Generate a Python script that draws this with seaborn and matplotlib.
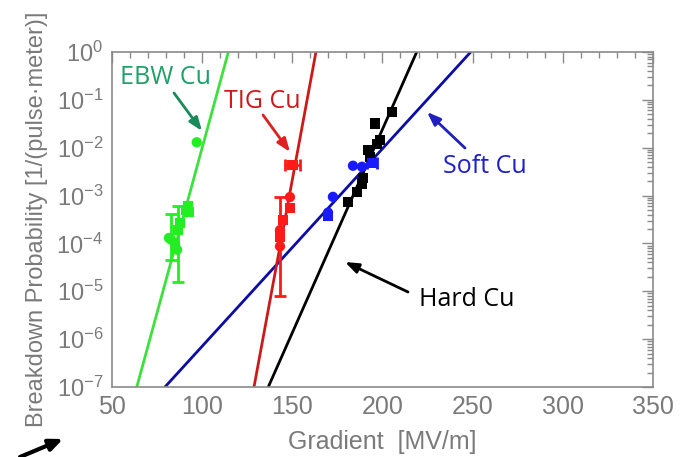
import numpy as np
import pandas as pd
import matplotlib
matplotlib.use("Agg")
import matplotlib.pyplot as plt
import matplotlib.ticker as mticker
import seaborn as sns

# ---------------- data ----------------
# fitted lines: gradient where the fit reaches P=1e-7 and P=1e0
fit_p = [1e-7, 1e0]
ebw_fit_g = [64.0, 114.7]
tig_fit_g = [128.9, 163.2]
hard_fit_g = [136.8, 219.0]
soft_fit_g = [79.6, 248.9]

# EBW Cu measurements
ebw_g = [97.2, 92.5, 93.1, 91.3, 83.0, 81.8, 87.0, 87.9, 86.3, 85.2]
ebw_p = [1.3e-2, 5.9e-4, 4.6e-4, 5.0e-4, 1.2e-4, 1.3e-4, 1.9e-4, 2.7e-4, 7.4e-5, 1.0e-4]
ebw_lo = [None, None, None, None, 4.6e-5, None, 1.56e-5, None, None, None]
ebw_hi = [None, None, None, None, 4.1e-4, None, 6.2e-4, None, None, None]
ebw_m = ["o", "s", "s", "s", "o", "o", "s", "s", "o", "o"]

# TIG Cu measurements
tig_g = [150.3, 148.8, 148.8, 143.3, 143.3, 143.3, 145.0]
tig_p = [4.4e-3, 9.3e-4, 5.5e-4, 1.9e-4, 1.4e-4, 8.7e-5, 3.1e-4]
tig_xerr = [4.0, None, None, None, None, None, None]
tig_lo = [None, None, None, None, 8.1e-6, None, None]
tig_hi = [None, None, None, None, 9.5e-4, None, None]
tig_m = ["s", "o", "s", "o", "s", "o", "s"]

# Hard Cu measurements
hard_g = [205.3, 196.0, 198.7, 197.0, 192.2, 193.1, 189.3, 188.7, 185.9, 181.0]
hard_p = [5.5e-2, 3.2e-2, 1.45e-2, 1.2e-2, 9.0e-3, 6.4e-3, 2.3e-3, 1.8e-3, 1.2e-3, 7.4e-4]

# Soft Cu measurements
soft_g = [183.7, 188.7, 194.2, 172.6, 169.9, 169.9]
soft_p = [4.2e-3, 4.0e-3, 4.8e-3, 9.4e-4, 4.4e-4, 3.8e-4]
soft_xerr = [None, None, 3.0, None, None, None]
soft_m = ["o", "o", "s", "o", "o", "s"]

x_ticks = [50, 100, 150, 200, 250, 300, 350]
y_ticks = [1e-7, 1e-6, 1e-5, 1e-4, 1e-3, 1e-2, 1e-1, 1e0]

labels = ["EBW Cu", "TIG Cu", "Soft Cu", "Hard Cu"]

# ---------------- style ----------------
sns.set_style("white")
plt.rcParams["font.family"] = ["Liberation Sans Narrow", "Liberation Sans", "DejaVu Sans"]
plt.rcParams["mathtext.fontset"] = "custom"
plt.rcParams["mathtext.rm"] = "Liberation Sans"
plt.rcParams["mathtext.it"] = "Liberation Sans"

gray = "#8a8a8a"
txtgray = "#7a7a7a"

c_ebw_line, c_ebw_pt, c_ebw_txt = "#3ee03e", "#22ee22", "#1fa066"
c_tig_line, c_tig_pt, c_tig_txt = "#cc1a1a", "#ff1a1a", "#cc1a1a"
c_hard = "#000000"
c_soft_line, c_soft_pt, c_soft_txt = "#0c0ca6", "#1a1aff", "#2020c8"

fig = plt.figure(figsize=(6.92, 4.57), dpi=100)
ax = fig.add_axes([111.5 / 692, 1 - 387 / 457, (653.3 - 111.5) / 692, (387 - 52) / 457])
ax.set_yscale("log")

# lines
for g, c in [(ebw_fit_g, c_ebw_line), (soft_fit_g, c_soft_line),
             (tig_fit_g, c_tig_line), (hard_fit_g, c_hard)]:
    sns.lineplot(x=g, y=fit_p, ax=ax, color=c, lw=2.0, estimator=None, sort=False, zorder=2)

def draw_points(gs, ps, markers, color, lo=None, hi=None, xerr=None):
    df = pd.DataFrame({"g": gs, "p": ps, "m": markers})
    for i in range(len(gs)):
        if lo is not None and lo[i] is not None:
            ax.errorbar(gs[i], ps[i], yerr=[[ps[i] - lo[i]], [hi[i] - ps[i]]],
                        fmt="none", ecolor=color, elinewidth=2, capsize=4, capthick=2, zorder=3)
        if xerr is not None and xerr[i] is not None:
            ax.errorbar(gs[i], ps[i], xerr=xerr[i], fmt="none", ecolor=color,
                        elinewidth=2, capsize=4, capthick=2, zorder=3)
    sns.scatterplot(data=df, x="g", y="p", style="m", markers={"o": "o", "s": "s"},
                    color=color, s=55, linewidth=0, ax=ax, legend=False, zorder=4)

draw_points(ebw_g, ebw_p, ebw_m, c_ebw_pt, ebw_lo, ebw_hi)
draw_points(tig_g, tig_p, tig_m, c_tig_pt, tig_lo, tig_hi, tig_xerr)
draw_points(hard_g, hard_p, ["s"] * len(hard_g), c_hard)
draw_points(soft_g, soft_p, soft_m, c_soft_pt, None, None, soft_xerr)

# axes
ax.set_xlim(50, 350)
ax.set_ylim(1e-7, 1e0)
ax.set_xticks(x_ticks)
ax.xaxis.set_minor_locator(mticker.MultipleLocator(10))
ax.set_yticks(y_ticks)
ax.yaxis.set_minor_locator(mticker.LogLocator(base=10, subs=np.arange(2, 10), numticks=20))
ax.yaxis.set_minor_formatter(mticker.NullFormatter())
ax.tick_params(which="both", direction="in", top=True, right=True, color=gray, width=1)
ax.tick_params(which="major", length=8)
ax.tick_params(which="minor", length=4)
ax.tick_params(axis="x", labelsize=18, labelcolor=txtgray, pad=6)
ax.tick_params(axis="y", labelsize=17, labelcolor=txtgray, pad=6)
for s in ax.spines.values():
    s.set_color(gray)
    s.set_linewidth(1.2)

ax.set_xlabel("Gradient  [MV/m]", fontsize=18, color=txtgray, labelpad=8)
ax.set_ylabel("Breakdown Probability [1/(pulse\u00b7meter)]", fontsize=17, color=txtgray, labelpad=6)

# annotations (figure pixel positions)
afont = ["Open Sans", "DejaVu Sans"]
def note(text, color, txy, tail, head, acolor=None):
    acolor = acolor or color
    fig.text(txy[0] / 692, 1 - txy[1] / 457, text, color=color, fontsize=18,
             family=afont, ha="center", va="center")
    ax.annotate("", xy=(head[0], 457 - head[1]), xycoords="figure pixels",
                xytext=(tail[0], 457 - tail[1]), textcoords="figure pixels",
                arrowprops=dict(arrowstyle="-|>,head_length=0.8,head_width=0.3",
                                color=acolor, lw=2, shrinkA=0, shrinkB=0))

note(labels[0], c_ebw_txt, (165, 77), (174, 93), (202, 131), "#1a8a5a")
note(labels[1], c_tig_txt, (262, 101), (263, 115), (290, 152), "#e02020")
note(labels[2], c_soft_txt, (485, 166), (465, 148), (427, 112), "#2020c0")
note(labels[3], "#000000", (467, 300), (408, 292), (345, 262), "#000000")

ax.annotate("", xy=(63, 18), xycoords="figure pixels", xytext=(20, 0),
            textcoords="figure pixels",
            arrowprops=dict(arrowstyle="-|>,head_length=0.8,head_width=0.35",
                            color="black", lw=3, shrinkA=0, shrinkB=0),
            annotation_clip=False)

fig.savefig("out.png", dpi=100)
